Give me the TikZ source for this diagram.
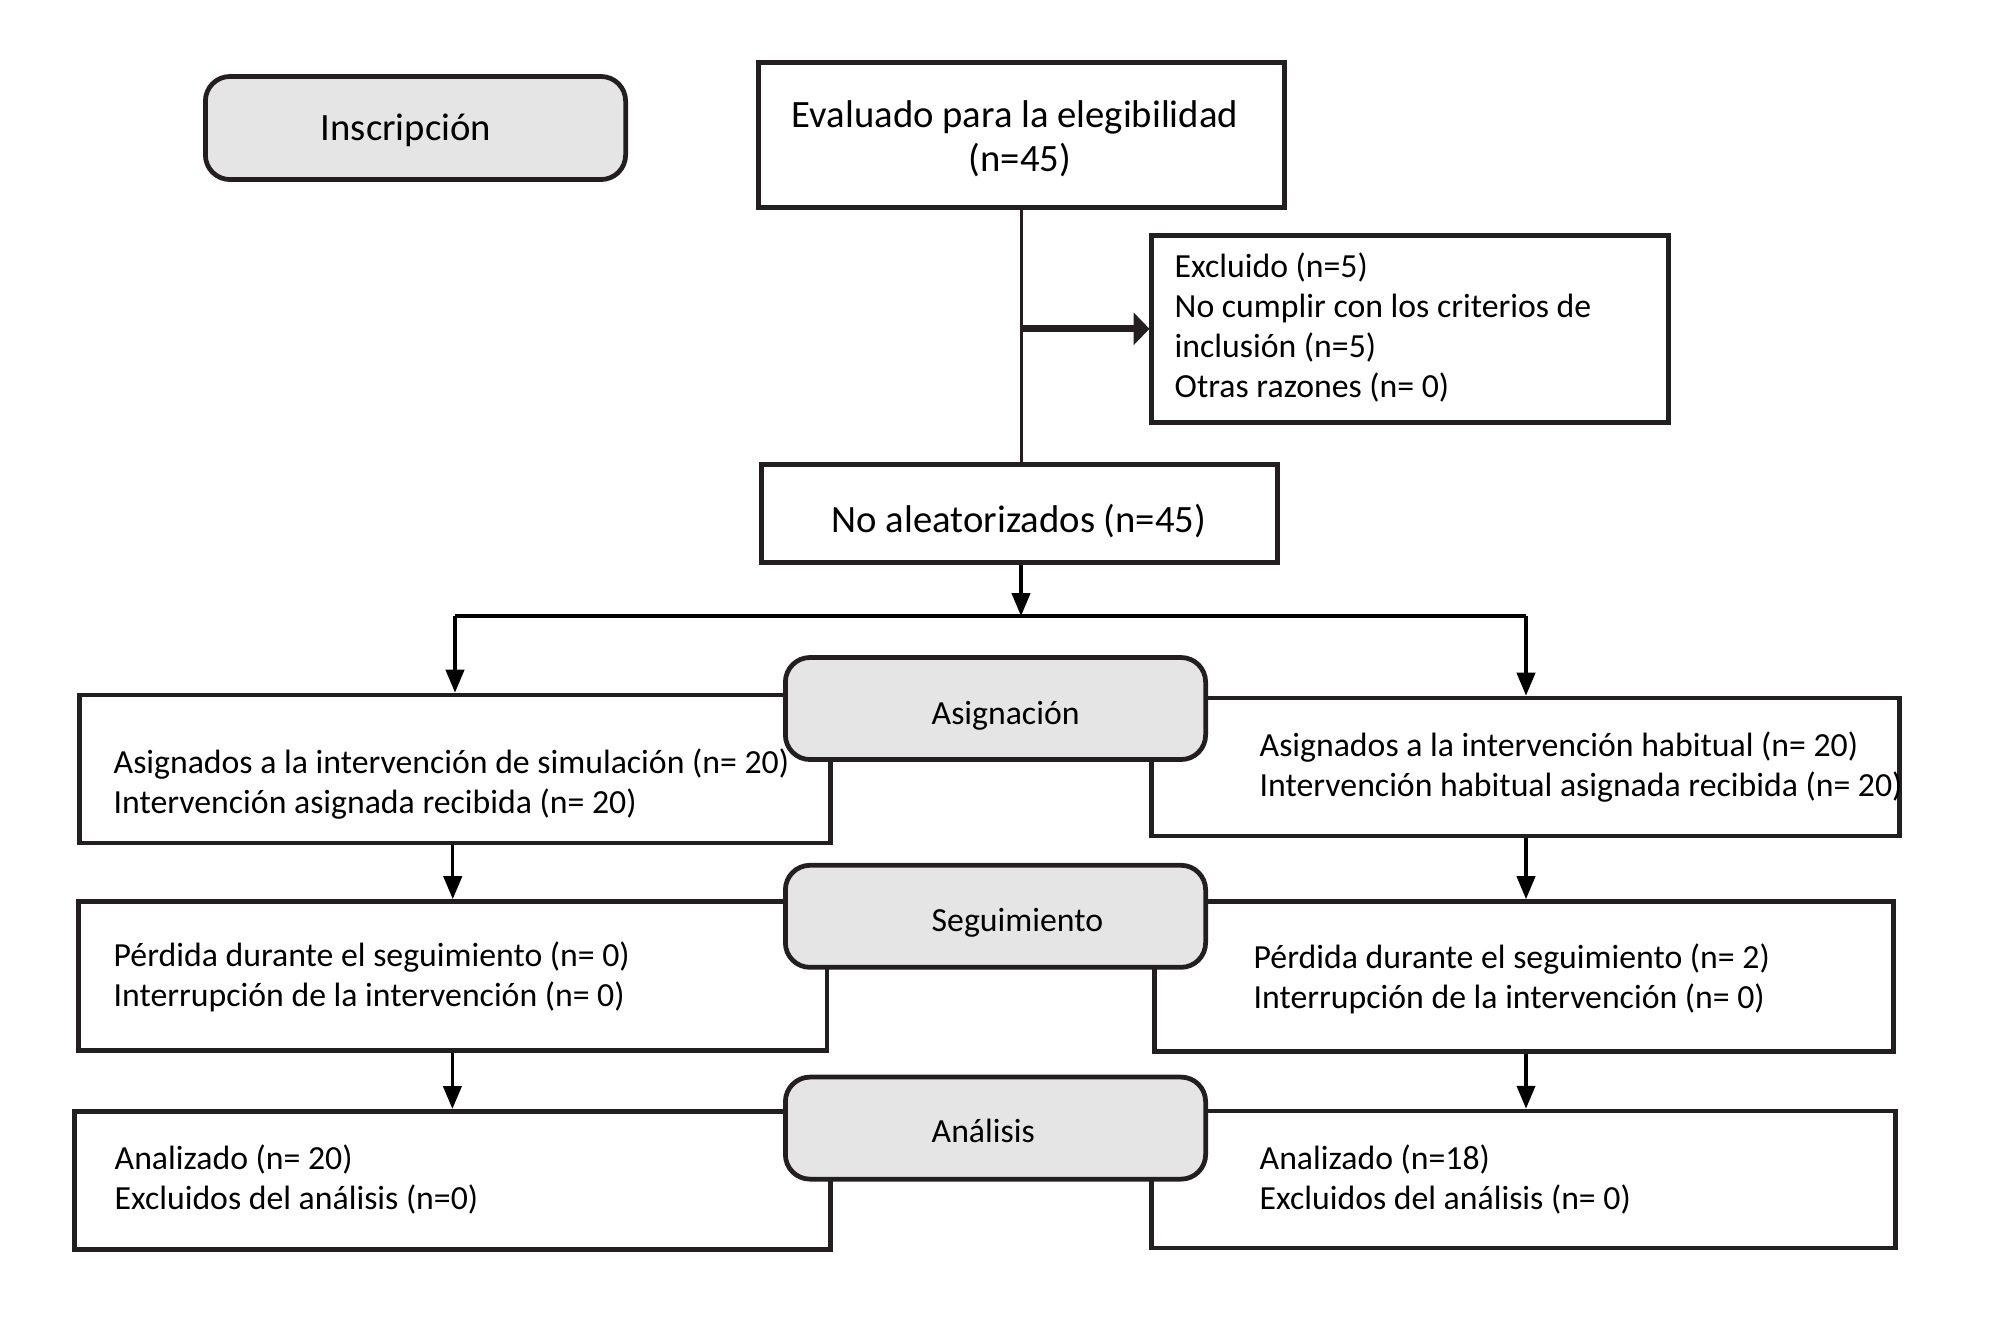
\documentclass[tikz,border=0pt]{standalone}
\usepackage{fontspec}
\setmainfont{Carlito}
\usetikzlibrary{arrows.meta}
\definecolor{ink}{RGB}{35,31,32}
\definecolor{lbl}{RGB}{230,229,230}
\tikzset{
  box/.style={draw=ink, line width=1.35pt, fill=white, inner sep=0pt},
  lblbox/.style={draw=ink, line width=1.35pt, fill=lbl, rounded corners=7pt, inner sep=0pt},
  body/.style={font=\fontsize{9.6pt}{11pt}\selectfont, text=black, inner sep=0pt, anchor=base west},
  big/.style={font=\fontsize{11pt}{13pt}\selectfont, text=black, inner sep=0pt, anchor=base},
  conn/.style={draw=black, line width=0.9pt, -{Triangle[length=6.5pt,width=5.2pt]}},
  plain/.style={draw=ink, line width=1.1pt},
  thick arrow/.style={draw=ink, line width=2pt, -{Triangle[length=4.5pt,width=9pt]}}
}
\begin{document}
\begin{tikzpicture}[x=0.01cm, y=-0.01cm]
\useasboundingbox (0,0) rectangle (1991,1317);
% top part
\node[lblbox, minimum width=4.2cm, minimum height=1.03cm] (insc) at (415.5,128) {};
\node[big] (inscT) at (406,140) {Inscripción};
\node[box, minimum width=5.26cm, minimum height=1.45cm] (eval) at (1021.5,135) {};
\node[big] (evalA) at (1015,127) {Evaluado para la elegibilidad};
\node[big] (evalB) at (1020,171.5) {(n=45)};
\node[box, minimum width=5.16cm, minimum height=1.87cm] (excl) at (1410,328.8) {};
\node[body] (exA) at (1174,277) {Excluido (n=5)};
\node[body] (exB) at (1174,317) {No cumplir con los criterios de};
\node[body] (exC) at (1174,357) {inclusión (n=5)};
\node[body] (exD) at (1174,397) {Otras razones (n= 0)};
\node[box, minimum width=5.16cm, minimum height=0.98cm] (noal) at (1019.5,513.5) {};
\node[big] (noalT) at (1019,532) {No aleatorizados (n=45)};
\coordinate (split) at (1021,616);
\coordinate (rx) at (1526,0);
% rows
\node[box, minimum width=7.50cm, minimum height=1.48cm] (asgL) at (455,769) {};
\node[box, minimum width=7.47cm, minimum height=1.38cm] (asgR) at (1525.5,767) {};
\node[box, minimum width=7.48cm, minimum height=1.49cm] (segL) at (452.75,976) {};
\node[box, minimum width=7.38cm, minimum height=1.50cm] (segR) at (1524,976.5) {};
\node[box, minimum width=7.55cm, minimum height=1.38cm] (anaL) at (452.4,1180.3) {};
\node[box, minimum width=7.43cm, minimum height=1.37cm] (anaR) at (1523.5,1179.5) {};
% texts in rows
\node[body] (aL1) at (113,773) {Asignados a la intervención de simulación (n= 20)};
\node[body] (aL2) at (113,813) {Intervención asignada recibida (n= 20)};
\begin{scope}
\clip (asgR.north west) rectangle (asgR.south east);
\node[body] (aR1) at (1259,756.5) {Asignados a la intervención habitual (n= 20)};
\node[body] (aR2) at (1259,796.5) {Intervención habitual asignada recibida (n= 20)};
\end{scope}
\node[body] (sL1) at (113,966) {Pérdida durante el seguimiento (n= 0)};
\node[body] (sL2) at (113,1006) {Interrupción de la intervención (n= 0)};
\node[body] (sR1) at (1253,968) {Pérdida durante el seguimiento (n= 2)};
\node[body] (sR2) at (1253,1008) {Interrupción de la intervención (n= 0)};
\node[body] (nL1) at (114,1169) {Analizado (n= 20)};
\node[body] (nL2) at (114,1209.5) {Excluidos del análisis (n=0)};
\node[body] (nR1) at (1259,1169) {Analizado (n=18)};
\node[body] (nR2) at (1259,1209.5) {Excluidos del análisis (n= 0)};
% label boxes
\node[lblbox, minimum width=4.20cm, minimum height=1.02cm] (lAsg) at (995.5,708.5) {};
\node[body] (lAsgT) at (931,724.5) {Asignación};
\node[lblbox, minimum width=4.20cm, minimum height=1.02cm] (lSeg) at (995.5,916.3) {};
\node[body] (lSegT) at (931,931.5) {Seguimiento};
\node[lblbox, minimum width=4.20cm, minimum height=1.02cm] (lAna) at (995.5,1128.1) {};
\node[body] (lAnaT) at (931,1142) {Análisis};
% connectors
\draw[plain] (eval.south) -- (noal.north -| eval.south);
\draw[thick arrow] (eval.south |- excl.west) -- (excl.west);
\draw[conn] (noal.south -| split) -- (split);
\draw[line width=0.9pt] (split -| asgL.north) -- (split -| rx);
\draw[conn] (split -| asgL.north) -- (asgL.north);
\draw[conn] (split -| rx) -- (asgR.north -| rx);
\draw[conn] (asgL.south -| segL.north) -- (segL.north);
\draw[conn] (segL.south -| anaL.north) -- (anaL.north);
\draw[conn] (asgR.south -| rx) -- (segR.north -| rx);
\draw[conn] (segR.south -| rx) -- (anaR.north -| rx);
\end{tikzpicture}
\end{document}
